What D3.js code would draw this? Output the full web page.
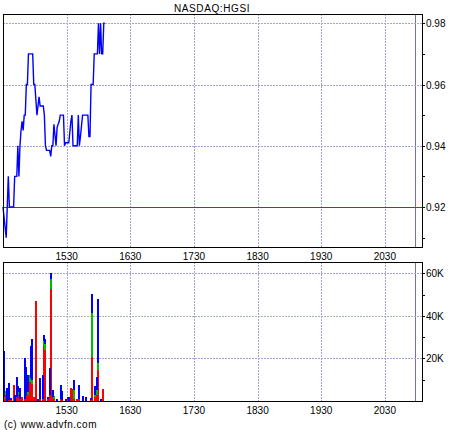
<!DOCTYPE html>
<html>
<head>
<meta charset="utf-8">
<script src="https://cdn.jsdelivr.net/npm/d3@7"></script>
<style>
	body { margin: 0; background: #fff; }
	svg text { font-family: "Liberation Sans", Arial, sans-serif; font-size: 10px; fill: #000; }
</style>
</head>
<body>
<div id="svg-container"></div>
<script>

// price trades (time GMT, price)
var priceTimes = [
	"14:30","14:33","14:34","14:35","14:36","14:40","14:41","14:43","14:44","14:45",
	"14:46","14:47","14:48","14:49","14:50","14:51","14:52","14:53","14:54","14:58",
	"14:59","15:00","15:02","15:04","15:05","15:08","15:09","15:10","15:11","15:14",
	"15:15","15:16","15:17","15:18","15:20","15:21","15:23","15:24","15:27","15:28",
	"15:29","15:32","15:34","15:35","15:36","15:40","15:41","15:42","15:43","15:45",
	"15:50","15:51","15:52","15:53","15:55","15:56","15:59","16:00","16:01","16:02",
	"16:03","16:04","16:05","16:06"
];
var priceValues = [
	0.92, 0.910, 0.92, 0.93, 0.92, 0.92, 0.93, 0.93, 0.94, 0.93,
	0.94, 0.945, 0.948, 0.945, 0.95, 0.95, 0.96, 0.96, 0.97, 0.97,
	0.96, 0.96, 0.95, 0.956, 0.953, 0.953, 0.95, 0.94, 0.9385, 0.9385,
	0.9365, 0.94, 0.94, 0.947, 0.94, 0.946, 0.948, 0.95, 0.95, 0.94,
	0.941, 0.941, 0.948, 0.95, 0.94, 0.94, 0.95, 0.94, 0.943, 0.95,
	0.95, 0.943, 0.943, 0.96, 0.96, 0.97, 0.97, 0.98, 0.97, 0.98,
	0.97, 0.97, 0.98, 0.98
];

// volume per minute, split by trade type
var volTimes = [
	"14:31","14:33","14:34","14:36","14:38","14:40","14:41","14:43","14:44","14:46",
	"14:48","14:51","14:52","14:54","14:55","14:56","14:57","14:59","15:01","15:03",
	"15:05","15:08","15:09","15:10","15:12","15:14","15:15","15:17","15:18","15:21",
	"15:25","15:26","15:29","15:31","15:32","15:34","15:36","15:37","15:40","15:42",
	"15:45","15:48","15:53","15:54","15:57","15:59","16:00","16:02","16:04"
];
var volSell = [
	1000, 3000, 0, 500, 500, 7500, 0, 2000, 3000, 1000,
	2000, 1000, 3000, 3000, 9000, 9000, 8000, 2000, 47000, 0,
	1000, 1000, 26000, 24000, 1000, 3000, 52500, 2000, 1000, 0,
	1000, 500, 0, 1000, 0, 6000, 5500, 1000, 1000, 1000,
	0, 0, 500, 20800, 2000, 3000, 14600, 0, 5500
];
var volUnknown = [
	1000, 1500, 0, 0, 0, 0, 0, 0, 1000, 0,
	0, 0, 0, 1000, 3000, 2000, 2000, 0, 0, 0,
	0, 0, 2000, 3000, 0, 0, 4900, 0, 1500, 0,
	0, 0, 0, 0, 0, 0, 0, 4000, 0, 0,
	0, 0, 0, 20500, 1000, 2000, 3100, 0, 0
];
var volBuy = [
	21500, 0, 6000, 8000, 1000, 0, 3000, 9400, 3000, 5000,
	0, 19400, 13000, 8000, 0, 15000, 19000, 0, 200, 1000,
	9700, 11000, 3000, 2000, 1000, 12700, 2600, 3000, 0, 1000,
	6500, 4000, 1000, 1000, 2000, 0, 0, 5000, 0, 6500,
	2500, 2000, 1000, 9100, 4000, 6400, 30200, 1000, 0
];

var hourTicks = ["15:30","16:30","17:30","18:30","19:30","20:30"];
var priceTicks = [0.92, 0.94, 0.96, 0.98];
var priceMinor = [0.91, 0.93, 0.95, 0.97];
var volTicks = [20000, 40000, 60000];
var volMinor = [10000, 30000, 50000];
var closeMark = "20:58";
var prevClose = 0.92;

var pageWidth = 460;
var pageHeight = 430;
var plotLeft = 3;
var plotRight = 422;
var priceTop = 14, priceBottom = 247;
var volTop = 262, volBottom = 401;
var gridColor = "#a4a4d8";

function t(s) {
	var p = s.split(":");
	return new Date(2009, 0, 2, +p[0], +p[1]);
}

var xScale = d3.scaleTime()
	.domain([t("14:30"), t("21:05")])
	.range([plotLeft, plotRight]);

var priceScale = d3.scaleLinear()
	.domain([0.90693, 0.98304])
	.range([priceBottom, priceTop]);

var volScale = d3.scaleLinear()
	.domain([0, 65300])
	.range([volBottom, volTop]);

var svg = d3.select('#svg-container')
	.append('svg')
	.attr('width', pageWidth)
	.attr('height', pageHeight)
	.attr('shape-rendering', 'crispEdges');

svg.append('rect')
	.attr('width', pageWidth)
	.attr('height', pageHeight)
	.attr('fill', '#fff');

svg.append('text')
	.attr('x', 212)
	.attr('y', 12)
	.attr('text-anchor', 'middle')
	.style('letter-spacing', '0.6px')
	.text('NASDAQ:HGSI');

function drawPanel(top, bottom) {
	var g = svg.append('g');
	hourTicks.forEach(function(h) {
		var x = Math.round(xScale(t(h))) + 0.5;
		g.append('line')
			.attr('x1', x).attr('x2', x)
			.attr('y1', top).attr('y2', bottom)
			.attr('stroke', gridColor)
			.attr('stroke-dasharray', '2,1');
	});
	var xm = Math.round(xScale(t(closeMark))) + 0.5;
	g.append('line')
		.attr('x1', xm).attr('x2', xm)
		.attr('y1', top).attr('y2', bottom)
		.attr('stroke', '#7070b8');
	return g;
}

function hGrid(g, y, color) {
	var yy = Math.round(y) + 0.5;
	g.append('line')
		.attr('x1', plotLeft).attr('x2', plotRight + 3)
		.attr('y1', yy).attr('y2', yy)
		.attr('stroke', color)
		.attr('stroke-dasharray', color == '#ff0000' ? null : '2,1');
}

function rightTicks(g, ys, labels) {
	ys.forEach(function(y, i) {
		var yy = Math.round(y) + 0.5;
		g.append('line')
			.attr('x1', plotRight).attr('x2', plotRight + 3)
			.attr('y1', yy).attr('y2', yy)
			.attr('stroke', '#000');
		if (labels) {
			g.append('text')
				.attr('x', plotRight + 4)
				.attr('y', yy + 3.5)
				.text(labels[i]);
		}
	});
}

function frame(top, bottom) {
	svg.append('rect')
		.attr('x', plotLeft + 0.5)
		.attr('y', top + 0.5)
		.attr('width', plotRight - plotLeft)
		.attr('height', bottom - top)
		.attr('fill', 'none')
		.attr('stroke', '#000');
}

// ---- price panel
var pricePanel = drawPanel(priceTop, priceBottom);

priceTicks.forEach(function(p) {
	hGrid(pricePanel, priceScale(p), p === prevClose ? '#ff0000' : gridColor);
});
rightTicks(pricePanel, priceTicks.map(priceScale), priceTicks.map(d3.format('.2f')));
rightTicks(pricePanel, priceMinor.map(priceScale));

var priceData = priceTimes.map(function(d, i) { return [t(d), priceValues[i]]; });

var priceLine = d3.line()
	.x(function(d) { return xScale(d[0]); })
	.y(function(d) { return priceScale(d[1]); });

svg.append('path')
	.datum(priceData)
	.attr('d', priceLine)
	.attr('fill', 'none')
	.attr('stroke', '#0000ff')
	.attr('stroke-width', 1.4)
	.attr('shape-rendering', 'auto');

frame(priceTop, priceBottom);

// hour labels between the panels and under the volume panel
hourTicks.forEach(function(h) {
	var x = xScale(t(h));
	svg.append('text').attr('x', x).attr('y', 260).attr('text-anchor', 'middle').text(h.replace(':', ''));
	svg.append('text').attr('x', x).attr('y', 414).attr('text-anchor', 'middle').text(h.replace(':', ''));
});

// ---- volume panel
var volPanel = drawPanel(volTop, volBottom);

volTicks.forEach(function(v) {
	hGrid(volPanel, volScale(v), v === 40000 ? '#a8b8a8' : gridColor);
});
rightTicks(volPanel, volTicks.map(volScale), volTicks.map(function(v) { return (v / 1000) + 'K'; }));
rightTicks(volPanel, volMinor.map(volScale));

var volData = volTimes.map(function(d, i) {
	return { time: t(d), sell: volSell[i], unknown: volUnknown[i], buy: volBuy[i] };
});

var stack = d3.stack().keys(['sell', 'unknown', 'buy']);
var volColors = { sell: '#ff0000', unknown: '#00bb00', buy: '#0000ff' };

svg.append('g')
	.selectAll('g')
	.data(stack(volData))
	.join('g')
		.attr('fill', function(d) { return volColors[d.key]; })
	.selectAll('rect')
	.data(function(d) { return d; })
	.join('rect')
		.attr('x', function(d) { return Math.round(xScale(d.data.time)) - 1; })
		.attr('width', 2)
		.attr('y', function(d) { return volScale(d[1]); })
		.attr('height', function(d) { return volScale(d[0]) - volScale(d[1]); });

frame(volTop, volBottom);

svg.append('text')
	.attr('x', 4)
	.attr('y', 428)
	.style('letter-spacing', '0.5px')
	.text('(c) www.advfn.com');

</script>
</body>
</html>
